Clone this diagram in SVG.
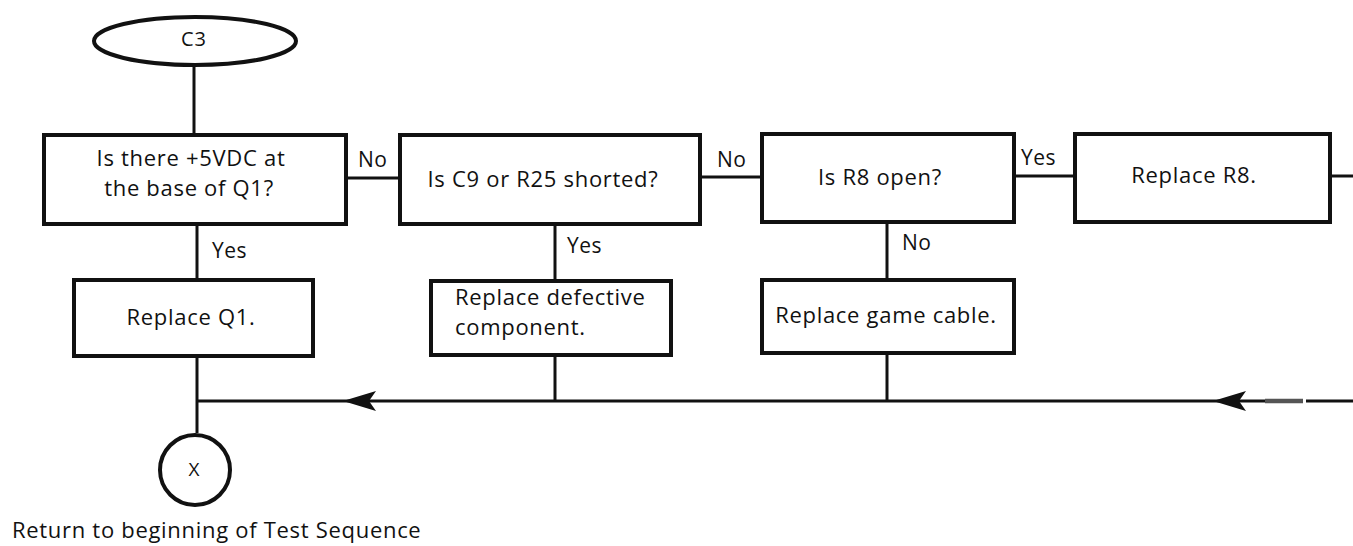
<svg xmlns="http://www.w3.org/2000/svg" width="1353" height="546" viewBox="0 0 1353 546">
<style>
  .box { fill: #ffffff; stroke: #111111; stroke-width: 4; }
  .ln { stroke: #111111; stroke-width: 3; fill: none; }
  .t { font-family: "Open Sans", "Liberation Sans", sans-serif; font-size: 22px; letter-spacing: 0.7px; fill: #111111; }
  .lbl { font-family: "Open Sans", "Liberation Sans", sans-serif; font-size: 21px; letter-spacing: 0.5px; fill: #111111; }
  .mid { text-anchor: middle; }
</style>
<defs>
  <path id="arrowhead" d="M0,0 L33,-10 L26,0 L33,10 Z" fill="#111111"/>
</defs>
<rect width="1353" height="546" fill="#ffffff"/>

<g id="connectors">
  <line class="ln" x1="194" y1="66" x2="194" y2="134"/>
  <line class="ln" x1="346" y1="178" x2="399" y2="178"/>
  <line class="ln" x1="701" y1="177" x2="761" y2="177"/>
  <line class="ln" x1="1015" y1="176" x2="1074" y2="176"/>
  <line class="ln" x1="1331" y1="176" x2="1353" y2="176"/>
  <line class="ln" x1="197" y1="225" x2="197" y2="279"/>
  <line class="ln" x1="197" y1="357" x2="197" y2="433"/>
  <line class="ln" x1="555" y1="226" x2="555" y2="280"/>
  <line class="ln" x1="555" y1="356" x2="555" y2="401"/>
  <line class="ln" x1="887" y1="223" x2="887" y2="279"/>
  <line class="ln" x1="887" y1="354" x2="887" y2="401"/>
  <line class="ln" x1="196" y1="401" x2="1265" y2="401"/>
  <line x1="1265" y1="401" x2="1303" y2="401" stroke="#555555" stroke-width="4.5"/>
  <line class="ln" x1="1306" y1="401" x2="1353" y2="401"/>
  <use href="#arrowhead" x="343" y="401"/>
  <use href="#arrowhead" x="1213" y="401"/>
  <text class="lbl" x="358" y="167">No</text>
  <text class="lbl" x="717" y="167">No</text>
  <text class="lbl" x="1021" y="165">Yes</text>
  <text class="lbl" x="212" y="258">Yes</text>
  <text class="lbl" x="567" y="253">Yes</text>
  <text class="lbl" x="902" y="250">No</text>
</g>

<g id="start-c3">
  <ellipse cx="195" cy="41" rx="101" ry="24" fill="#ffffff" stroke="#111111" stroke-width="4"/>
  <text class="t mid" x="194" y="46" style="font-size:20px;letter-spacing:1px">C3</text>
</g>

<g id="q-5vdc">
  <rect class="box" x="44" y="135" width="302" height="89"/>
  <text class="t mid" x="191" y="166">Is there +5VDC at</text>
  <text class="t mid" x="189" y="196">the base of Q1?</text>
</g>

<g id="q-c9-r25">
  <rect class="box" x="400" y="135" width="300" height="89"/>
  <text class="t mid" x="543" y="187">Is C9 or R25 shorted?</text>
</g>

<g id="q-r8-open">
  <rect class="box" x="762" y="134" width="252" height="88"/>
  <text class="t mid" x="880" y="185">Is R8 open?</text>
</g>

<g id="replace-r8">
  <rect class="box" x="1075" y="134" width="255" height="88"/>
  <text class="t mid" x="1194" y="183">Replace R8.</text>
</g>

<g id="replace-q1">
  <rect class="box" x="74" y="280" width="239" height="76"/>
  <text class="t mid" x="191" y="325">Replace Q1.</text>
</g>

<g id="replace-defective">
  <rect class="box" x="431" y="281" width="240" height="74"/>
  <text class="t" x="455" y="305">Replace defective</text>
  <text class="t" x="455" y="335">component.</text>
</g>

<g id="replace-cable">
  <rect class="box" x="762" y="280" width="252" height="73"/>
  <text class="t mid" x="886" y="323">Replace game cable.</text>
</g>

<g id="end-x">
  <circle cx="195" cy="470" r="35" fill="#ffffff" stroke="#111111" stroke-width="4"/>
  <text class="t mid" x="194" y="476" style="font-size:19px;letter-spacing:0">X</text>
  <text class="t" x="12" y="538">Return to beginning of Test Sequence</text>
</g>
</svg>
